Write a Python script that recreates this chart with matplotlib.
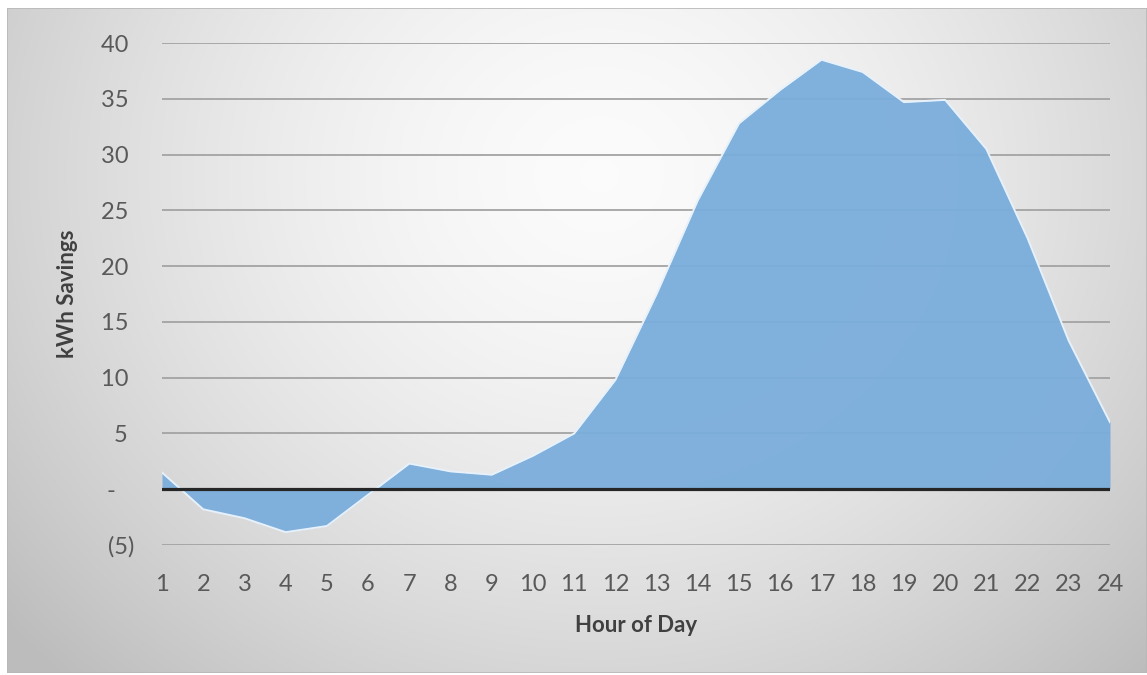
import numpy as np
import matplotlib
matplotlib.use("Agg")
import matplotlib.pyplot as plt
from matplotlib.patches import Rectangle

plt.rcParams.update({"font.family": ["Lato", "DejaVu Sans"]})

hours = list(range(1, 25))
savings = [1.5, -1.8, -2.6, -3.85, -3.3, -0.5, 2.3, 1.6, 1.3, 3.0, 5.0, 9.8,
           17.5, 25.9, 32.8, 35.8, 38.5, 37.4, 34.7, 34.9, 30.5, 22.5, 13.3, 6.0]
y_ticks = [-5, 0, 5, 10, 15, 20, 25, 30, 35, 40]
y_labels = ["(5)", "-   ", "5 ", "10 ", "15 ", "20 ", "25 ", "30 ", "35 ", "40 "]

W, H = 1147, 675
fig = plt.figure(figsize=(W / 100, H / 100), dpi=100)
fig.patch.set_facecolor("white")

# chart area with radial grey gradient
x0, y0, x1, y1 = 7, 8, 1147, 673
bg = fig.add_axes([x0 / W, 1 - y1 / H, (x1 - x0) / W, (y1 - y0) / H])
gx, gy = np.meshgrid(np.linspace(0, 1, 400), np.linspace(0, 1, 240))
r = np.sqrt(((gx - 0.52) / 0.62) ** 2 + ((gy - 0.25) / 0.95) ** 2)
shade = np.clip(0.985 - 0.21 * r ** 1.6, 0.74, 1.0)
bg.imshow(np.dstack([shade] * 3), aspect="auto", extent=[0, 1, 0, 1],
          origin="upper", interpolation="bilinear")
bg.add_patch(Rectangle((0, 0), 1, 1, transform=bg.transAxes, fill=False,
                       edgecolor="#b8b8b8", linewidth=1.2))
bg.set_axis_off()

# plot area
left, right, top, bottom = 162, 1110, 43, 545
ax = fig.add_axes([left / W, 1 - bottom / H, (right - left) / W, (bottom - top) / H])
ax.patch.set_alpha(0)

for t in y_ticks:
    if t != 0:
        ax.axhline(t, color="#a3a3a3", linewidth=1.3, zorder=1)

ax.fill_between(hours, savings, 0, color="#7aaddb", alpha=0.95,
                linewidth=0, zorder=2)
ax.plot(hours, savings, color="#e6f1fb", linewidth=1.4, zorder=3)
ax.axhline(0, color="#262626", linewidth=2.3, zorder=4)

ax.set_xlim(1, 24)
ax.set_ylim(-5, 40)
ax.set_xticks(hours)
ax.set_xticklabels([str(h) for h in hours])
ax.set_yticks(y_ticks)
ax.set_yticklabels(y_labels)
ax.tick_params(axis="both", length=0, labelsize=17, labelcolor="#595959")
ax.tick_params(axis="x", pad=21)
ax.tick_params(axis="y", pad=20)
for s in ax.spines.values():
    s.set_visible(False)

ax.set_xlabel("Hour of Day", fontsize=16, fontweight="bold", color="#404040",
              labelpad=14)
ax.set_ylabel("kWh Savings", fontsize=16, fontweight="bold", color="#404040",
              labelpad=16)

fig.savefig("out.png", dpi=100)
